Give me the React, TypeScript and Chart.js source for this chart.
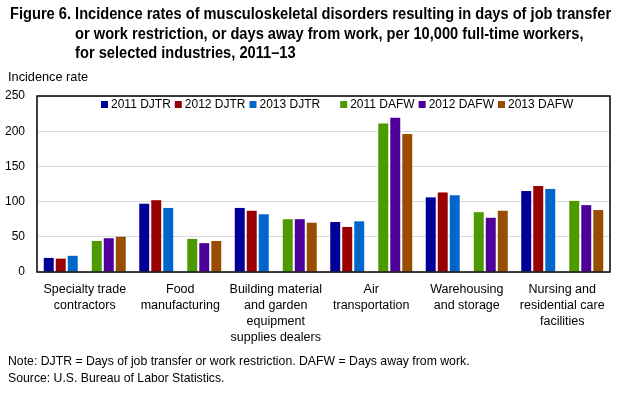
import React, { useEffect, useLayoutEffect, useRef } from "react";
import { Chart, registerables } from "chart.js";

Chart.register(...registerables);

const CATEGORIES: string[][] = [
  ["Specialty trade", "contractors"],
  ["Food", "manufacturing"],
  ["Building material", "and garden", "equipment", "supplies dealers"],
  ["Air", "transportation"],
  ["Warehousing", "and storage"],
  ["Nursing and", "residential care", "facilities"],
];

const DJTR_2011 = [20, 97, 91, 71, 106, 115];
const DJTR_2012 = [19, 102, 87, 64, 113, 122];
const DJTR_2013 = [23, 91, 82, 72, 109, 118];
const DAFW_2011 = [44, 47, 75, 211, 85, 101];
const DAFW_2012 = [48, 41, 75, 219, 77, 95];
const DAFW_2013 = [50, 44, 70, 196, 87, 88];

const SERIES_LABELS = ["2011 DJTR", "2012 DJTR", "2013 DJTR", "2011 DAFW", "2012 DAFW", "2013 DAFW"];
const SERIES_COLORS = ["#000099", "#990000", "#0066cc", "#4d9900", "#4d0099", "#994d00"];

const Y_MIN = 0;
const Y_MAX = 250;
const Y_STEP = 50;

const TITLE_PREFIX = "Figure 6.";
const TITLE_LINES = [
  "Incidence rates of musculoskeletal disorders resulting in days of job transfer",
  "or work restriction, or days away from work, per 10,000 full-time workers,",
  "for selected industries, 2011\u201313",
];
const Y_TITLE = "Incidence rate";
const NOTES = [
  "Note: DJTR = Days of job transfer or work restriction. DAFW = Days away from work.",
  "Source: U.S. Bureau of Labor Statistics.",
];

const FONT = '"Liberation Sans", Arial, sans-serif';
const TITLE_TARGET_WIDTH = 601;

const legendPlugin = {
  id: "insideLegend",
  afterDraw(chart: any) {
    const { ctx, chartArea } = chart;
    ctx.save();
    ctx.font = `12px ${FONT}`;
    ctx.textBaseline = "middle";
    ctx.textAlign = "left";
    let x = chartArea.left + 64;
    const y = chartArea.top + 8.5;
    chart.data.datasets.forEach((ds: any) => {
      if (!ds.label) {
        x += 16;
        return;
      }
      ctx.fillStyle = ds.backgroundColor;
      ctx.fillRect(x, y - 3.5, 7, 7);
      ctx.fillStyle = "#000";
      ctx.fillText(ds.label, x + 10, y + 0.5);
      x += 10 + ctx.measureText(ds.label).width + 4;
    });
    ctx.restore();
  },
};

const framePlugin = {
  id: "frame",
  afterDatasetsDraw(chart: any) {
    const { ctx, chartArea } = chart;
    ctx.save();
    ctx.strokeStyle = "#000";
    ctx.lineWidth = 1.5;
    ctx.strokeRect(chartArea.left, chartArea.top, chartArea.right - chartArea.left, chartArea.bottom - chartArea.top);
    ctx.restore();
  },
};

export default function App() {
  const canvasRef = useRef<HTMLCanvasElement | null>(null);
  const titleRef = useRef<HTMLDivElement | null>(null);

  useLayoutEffect(() => {
    const el = titleRef.current;
    if (!el) return;
    el.style.transform = "none";
    const w = el.scrollWidth;
    if (w > 0) el.style.transform = `scaleX(${TITLE_TARGET_WIDTH / w})`;
  }, []);

  useEffect(() => {
    document.body.style.margin = "0";
    const canvas = canvasRef.current;
    if (!canvas) return;
    const series = [DJTR_2011, DJTR_2012, DJTR_2013, DAFW_2011, DAFW_2012, DAFW_2013];
    const datasets: any[] = series.map((data, i) => ({
      label: SERIES_LABELS[i],
      data,
      backgroundColor: SERIES_COLORS[i],
      borderWidth: 0,
      categoryPercentage: 0.88,
      barPercentage: 0.83,
    }));
    // empty spacer slot between DJTR and DAFW groups
    datasets.splice(3, 0, {
      label: "",
      data: CATEGORIES.map(() => null),
      backgroundColor: "rgba(0,0,0,0)",
      categoryPercentage: 0.88,
      barPercentage: 0.83,
    });

    const chart = new Chart(canvas, {
      type: "bar",
      data: { labels: CATEGORIES as any, datasets },
      options: {
        responsive: false,
        maintainAspectRatio: false,
        animation: false,
        layout: { padding: { top: 96, right: 15, left: 0, bottom: 0 } },
        plugins: {
          legend: { display: false },
          title: { display: false },
          tooltip: { enabled: false },
        },
        scales: {
          x: {
            grid: { display: false, drawTicks: false },
            border: { display: false },
            ticks: {
              color: "#000",
              font: { family: FONT, size: 12.5, lineHeight: 1.28 },
              padding: 10,
              maxRotation: 0,
              autoSkip: false,
            },
            afterFit(scale: any) {
              scale.height = 122;
            },
          },
          y: {
            min: Y_MIN,
            max: Y_MAX,
            grid: { color: "#d9d9d9", lineWidth: 1, drawTicks: false },
            border: { display: false },
            ticks: {
              stepSize: Y_STEP,
              color: "#000",
              font: { family: FONT, size: 12 },
              padding: 12,
            },
            afterFit(scale: any) {
              scale.width = 37;
            },
          },
        },
      },
      plugins: [legendPlugin, framePlugin],
    });
    return () => chart.destroy();
  }, []);

  return (
    <div
      style={{
        position: "fixed",
        left: 0,
        top: 0,
        width: 625,
        height: 394,
        background: "#fff",
        overflow: "hidden",
        fontFamily: FONT,
        color: "#000",
      }}
    >
      <canvas ref={canvasRef} width={625} height={394} style={{ position: "absolute", left: 0, top: 0 }} />
      <div
        ref={titleRef}
        style={{
          position: "absolute",
          left: 10,
          top: 4,
          display: "flex",
          whiteSpace: "nowrap",
          font: `bold 16px ${FONT}`,
          lineHeight: "19.5px",
          transformOrigin: "0 0",
        }}
      >
        <div>{TITLE_PREFIX}&nbsp;</div>
        <div>
          {TITLE_LINES.map((l, i) => (
            <div key={i}>{l}</div>
          ))}
        </div>
      </div>
      <div style={{ position: "absolute", left: 8, top: 69, fontSize: 12.75, lineHeight: "16px", whiteSpace: "nowrap" }}>
        {Y_TITLE}
      </div>
      <div style={{ position: "absolute", left: 8, top: 353, fontSize: 12.25, lineHeight: "17px", whiteSpace: "nowrap" }}>
        {NOTES.map((n, i) => (
          <div key={i}>{n}</div>
        ))}
      </div>
    </div>
  );
}
